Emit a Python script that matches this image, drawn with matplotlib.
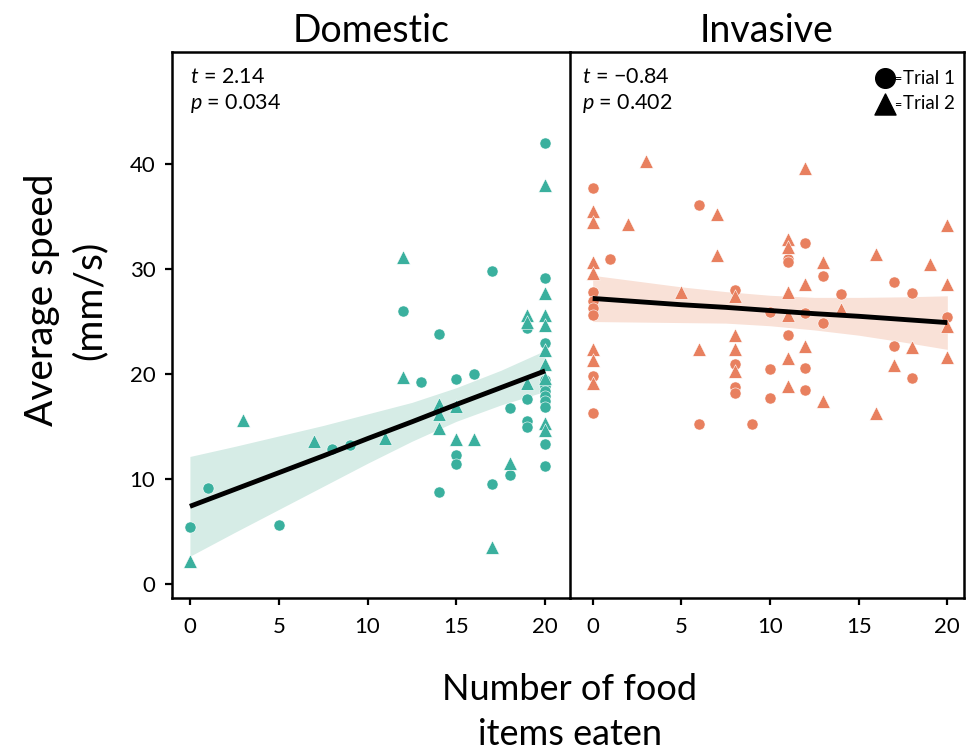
import matplotlib
matplotlib.use('Agg')
import matplotlib.pyplot as plt
import numpy as np

plt.rcParams['font.family'] = ['Lato', 'DejaVu Sans']
plt.rcParams['mathtext.fontset'] = 'custom'
plt.rcParams['mathtext.rm'] = 'Lato'
plt.rcParams['mathtext.it'] = 'Lato:italic'

# Domestic, trial 1 (circles) and trial 2 (triangles)
dom_t1_x = [0, 1, 5, 8, 9, 12, 13, 14, 14, 15, 15, 15, 16, 17, 17, 18, 18, 19, 19, 19, 19,
            20, 20, 20, 20, 20, 20, 20, 20, 20, 20, 20]
dom_t1_y = [5.4, 9.1, 5.6, 12.9, 13.2, 26.0, 19.2, 23.8, 8.8, 19.5, 12.3, 11.4, 20.0, 29.8, 9.5,
            16.8, 10.4, 24.4, 17.6, 15.5, 15.0, 42.0, 29.1, 23.0, 19.4, 18.9, 18.4, 17.9, 17.4,
            16.9, 13.3, 11.2]
dom_t2_x = [0, 3, 7, 11, 12, 12, 14, 14, 14, 15, 15, 16, 17, 18, 19, 19, 19, 20, 20, 20, 20,
            20, 20, 20, 20, 20]
dom_t2_y = [2.2, 15.6, 13.6, 13.9, 19.7, 31.1, 17.1, 16.2, 14.9, 16.95, 13.8, 13.8, 3.5, 11.5,
            25.6, 25.0, 19.1, 38.0, 27.7, 25.6, 24.7, 22.3, 21.0, 15.3, 14.7, 19.6]

# Invasive, trial 1 (circles) and trial 2 (triangles)
inv_t1_x = [0, 0, 0, 0, 0, 0, 0, 1, 6, 6, 8, 8, 8, 8, 9, 10, 10, 10, 11, 11, 11, 12, 12, 12, 12,
            13, 13, 14, 17, 17, 18, 18, 20]
inv_t1_y = [37.7, 27.8, 27.0, 26.3, 25.6, 19.8, 16.3, 31.0, 36.1, 15.2, 28.0, 20.95, 18.8, 18.2,
            15.2, 25.9, 20.5, 17.7, 31.0, 30.7, 23.7, 32.5, 25.8, 20.6, 18.5, 29.3, 24.9, 27.6,
            28.8, 22.7, 27.7, 19.65, 25.4]
inv_t2_x = [0, 0, 0, 0, 0, 0, 0, 2, 3, 5, 6, 7, 7, 8, 8, 8, 8, 11, 11, 11, 11, 11, 11, 12, 12,
            12, 13, 13, 14, 16, 16, 17, 18, 19, 20, 20, 20, 20]
inv_t2_y = [35.5, 34.5, 30.7, 29.6, 22.4, 21.3, 19.1, 34.3, 40.3, 27.8, 22.4, 35.2, 31.3, 27.4,
            23.7, 22.35, 20.3, 32.9, 32.1, 27.8, 25.6, 21.5, 18.9, 39.65, 28.6, 22.7, 30.7, 17.4,
            26.2, 31.4, 16.3, 20.9, 22.6, 30.5, 34.2, 28.6, 24.6, 21.65]

# fitted lines and confidence bands
band_x = [0, 2.5, 5, 7.5, 10, 12.5, 15, 17.5, 20]
dom_fit = [7.4, 9.0, 10.6, 12.2, 13.85, 15.45, 17.1, 18.7, 20.3]
dom_hi = [12.15, 13.1, 14.1, 15.1, 16.2, 17.3, 18.7, 20.35, 22.25]
dom_lo = [2.65, 4.9, 7.1, 9.3, 11.5, 13.6, 15.5, 17.05, 18.35]
inv_fit = [27.2, 26.9, 26.6, 26.35, 26.05, 25.75, 25.5, 25.2, 24.9]
inv_hi = [29.4, 28.85, 28.3, 27.85, 27.5, 27.3, 27.3, 27.35, 27.45]
inv_lo = [25.0, 24.95, 24.9, 24.85, 24.6, 24.2, 23.7, 23.05, 22.35]

stats = {'Domestic': ('2.14', '0.034'), 'Invasive': ('\u22120.84', '0.402')}

teal = '#3AB09E'
orange = '#E8805F'

fig = plt.figure(figsize=(9.73, 7.5), dpi=100)
ax1 = fig.add_axes([172/973, 152/750, 398/973, 546/750])
ax2 = fig.add_axes([570/973, 152/750, 394/973, 546/750])
ax2.patch.set_visible(False)

panels = [
    (ax1, 'Domestic', teal, '#D6ECE6', dom_t1_x, dom_t1_y, dom_t2_x, dom_t2_y, dom_fit, dom_hi, dom_lo, (-1.01, 21.4)),
    (ax2, 'Invasive', orange, '#F9E1D7', inv_t1_x, inv_t1_y, inv_t2_x, inv_t2_y, inv_fit, inv_hi, inv_lo, (-1.28, 20.94)),
]

for ax, name, col, bandcol, x1, y1, x2, y2, fit, hi, lo, xl in panels:
    ax.fill_between(band_x, lo, hi, color=bandcol, lw=0, zorder=1)
    ax.scatter(x1, y1, marker='o', s=64, color=col, edgecolors='white', linewidths=0.4, zorder=2)
    ax.scatter(x2, y2, marker='^', s=95, color=col, edgecolors='white', linewidths=0.4, zorder=2)
    ax.plot(band_x, fit, color='black', lw=3.5, zorder=3, solid_capstyle='butt')
    ax.set_xlim(*xl)
    ax.set_ylim(-1.33, 50.67)
    ax.set_xticks([0, 5, 10, 15, 20])
    ax.set_title(name, fontsize=27, pad=7)
    for sp in ax.spines.values():
        sp.set_linewidth(1.8)
    ax.tick_params(axis='both', labelsize=16, length=5, width=1.6, direction='out', pad=9)
    ax.tick_params(axis='y', pad=7)
    t, p = stats[name]
    xt = 0.045 if name == 'Domestic' else 0.03
    ax.text(xt, 0.955, '$t$ = ' + t, transform=ax.transAxes, fontsize=15.5, va='center', ha='left')
    ax.text(xt, 0.905, '$p$ = ' + p, transform=ax.transAxes, fontsize=15.5, va='center', ha='left')

ax1.set_yticks([0, 10, 20, 30, 40])
ax2.set_yticks([])
ax2.spines['left'].set_visible(False)

# trial legend in the invasive panel
ax2.scatter([0.80], [0.952], marker='o', s=200, color='black', transform=ax2.transAxes, clip_on=False)
ax2.scatter([0.80], [0.905], marker='^', s=230, color='black', transform=ax2.transAxes, clip_on=False)
ax2.text(0.822, 0.950, '=', transform=ax2.transAxes, fontsize=9, va='center')
ax2.text(0.845, 0.952, 'Trial 1', transform=ax2.transAxes, fontsize=13.5, va='center')
ax2.text(0.822, 0.903, '=', transform=ax2.transAxes, fontsize=9, va='center')
ax2.text(0.845, 0.905, 'Trial 2', transform=ax2.transAxes, fontsize=13.5, va='center')

fig.text(66/973, 1 - 300/750, 'Average speed\n(mm/s)', rotation=90, fontsize=28,
         ha='center', va='center', linespacing=1.4)
fig.text(570/973, 1 - 712/750, 'Number of food\nitems eaten', fontsize=26,
         ha='center', va='center', linespacing=1.45)

fig.savefig('out.png', dpi=100)
